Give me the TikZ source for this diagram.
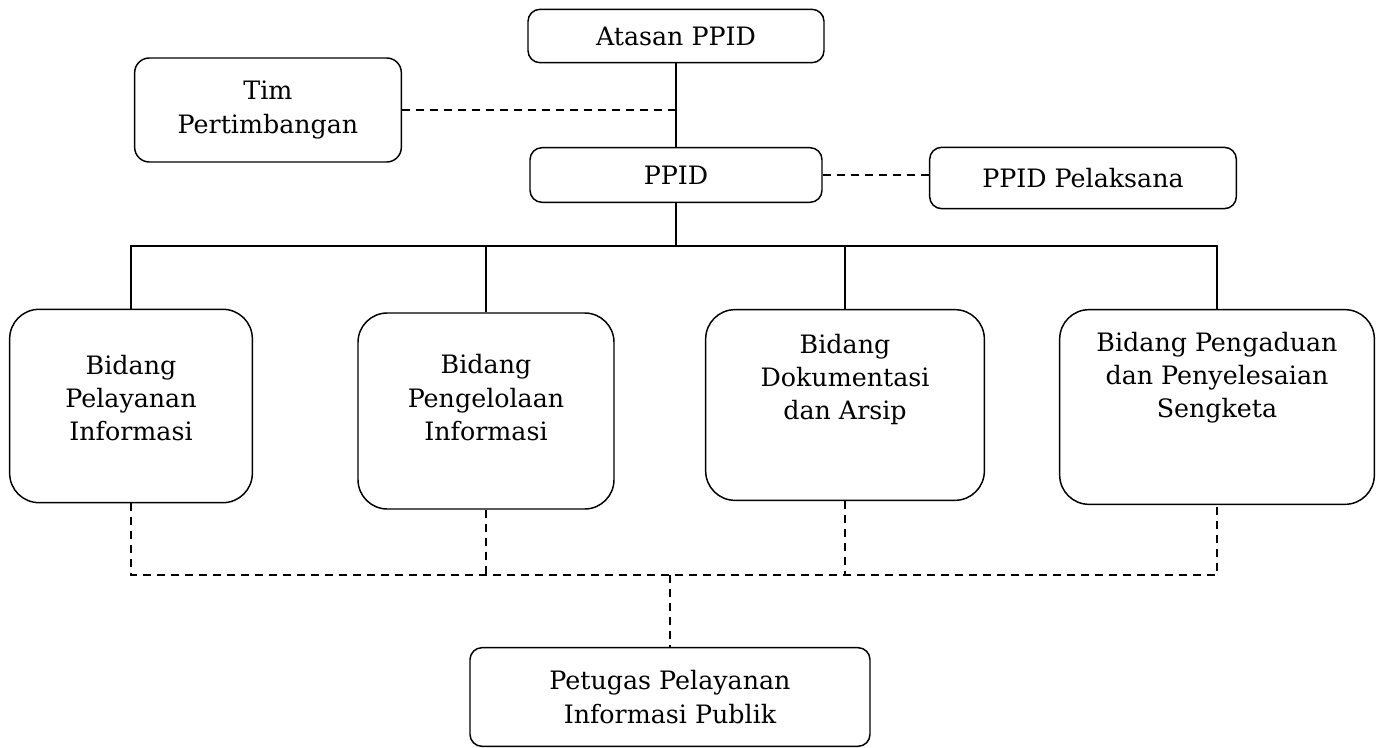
\documentclass[tikz,border=0pt]{standalone}
\usepackage{fontspec}
\setmainfont{DejaVu Serif}
\usetikzlibrary{calc}
\tikzset{
  smallbox/.style={draw,line width=1.1pt,rounded corners=9pt,align=center,inner sep=0pt},
  bigbox/.style={draw,line width=1.1pt,rounded corners=22pt,inner sep=0pt},
  boxtext/.style={align=center,inner sep=0pt},
  link/.style={line width=1.1pt},
  dlink/.style={line width=1.1pt,dash pattern=on 6pt off 4.5pt}
}
\begin{document}
\begin{tikzpicture}[x=0.75pt,y=-0.75pt,font=\fontsize{19}{25}\selectfont]
  \useasboundingbox (0,0) rectangle (1383,748);
  % top levels
  \node[smallbox,minimum width=222pt,minimum height=40pt] (atasan) at (676,36) {Atasan PPID};
  \node[smallbox,rounded corners=11pt,minimum width=200pt,minimum height=78pt] (tim) at (268,110) {Tim\\Pertimbangan};
  \node[smallbox,minimum width=219pt,minimum height=41pt] (ppid) at (676,175) {PPID};
  \node[smallbox,minimum width=230pt,minimum height=46pt] (pelaksana) at (1083,178) {PPID Pelaksana};
  % bidang boxes
  \node[bigbox,minimum width=182pt,minimum height=145pt] (b1) at (131,406) {};
  \node[bigbox,minimum width=192pt,minimum height=147pt] (b2) at (486,411) {};
  \node[bigbox,minimum width=209pt,minimum height=143pt] (b3) at (845,405) {};
  \node[bigbox,minimum width=236pt,minimum height=146pt] (b4) at (1217,407) {};
  \node[boxtext] (b1t) at ([yshift=6pt]b1.center) {Bidang\\Pelayanan\\Informasi};
  \node[boxtext] (b2t) at ([yshift=10pt]b2.center) {Bidang\\Pengelolaan\\Informasi};
  \node[boxtext] (b3t) at ([yshift=19pt]b3.center) {Bidang\\Dokumentasi\\dan Arsip};
  \node[boxtext] (b4t) at ([yshift=22pt]b4.center) {Bidang Pengaduan\\dan Penyelesaian\\Sengketa};
  % bottom
  \node[smallbox,minimum width=300pt,minimum height=74pt] (petugas) at (670,697) {Petugas Pelayanan\\Informasi Publik};
  % connectors
  \coordinate (bus) at (676,246);
  \coordinate (lbus) at (670,575);
  \draw[link] (atasan.south) -- (ppid.north);
  \draw[dlink] (tim.east) -- (tim.east -| ppid.north);
  \draw[dlink] (ppid.east) -- (ppid.east -| pelaksana.west);
  \draw[link] (ppid.south) -- (bus);
  \draw[link] (b1.north) -- (b1.north |- bus) -- (b4.north |- bus) -- (b4.north);
  \draw[link] (b2.north) -- (b2.north |- bus);
  \draw[link] (b3.north) -- (b3.north |- bus);
  \draw[dlink] (b1.south) -- (b1.south |- lbus) -- (b4.south |- lbus) -- (b4.south);
  \draw[dlink] (b2.south) -- (b2.south |- lbus);
  \draw[dlink] (b3.south) -- (b3.south |- lbus);
  \draw[dlink] (lbus) -- (petugas.north);
\end{tikzpicture}
\end{document}
